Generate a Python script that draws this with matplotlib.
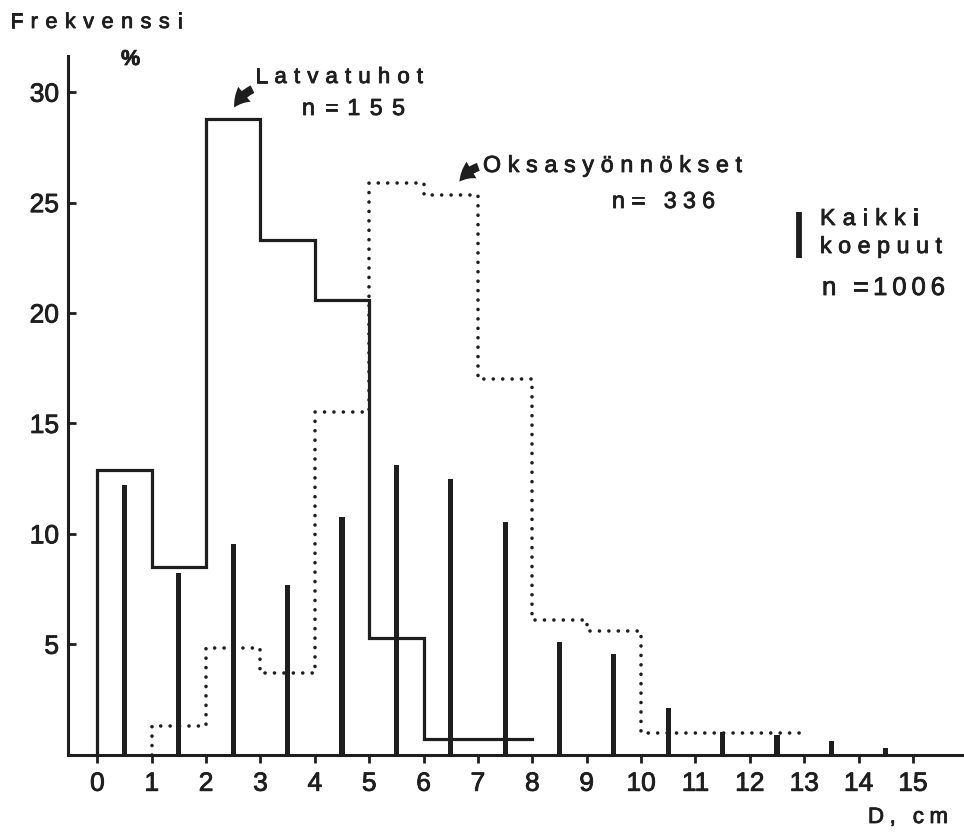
import numpy as np
import matplotlib
matplotlib.use("Agg")
import matplotlib.pyplot as plt
import matplotlib.patheffects as pe
from matplotlib import font_manager, ft2font
from matplotlib.patches import FancyArrowPatch

# Diameter class edges (cm) and frequencies (%)
# Latvatuhot, n = 155
top_edges = [0, 1, 2, 3, 4, 5, 6, 8]
top_pct = [12.9, 8.5, 28.8, 23.3, 20.6, 5.3, 0.7]

# Oksasyönnökset, n = 336
branch_edges = [1, 2, 3, 4, 5, 6, 7, 8, 9, 10, 13]
branch_pct = [1.3, 4.85, 3.7, 15.5, 25.9, 25.35, 17.0, 6.1, 5.6, 1.0]

# Kaikki koepuut, n = 1006 (class midpoints)
all_mid = [0.5, 1.5, 2.5, 3.5, 4.5, 5.5, 6.5, 7.5, 8.5, 9.5, 10.5, 11.5, 12.5, 13.5, 14.5]
all_pct = [12.2, 8.25, 9.55, 7.7, 10.75, 13.1, 12.5, 10.55, 5.1, 4.55, 2.1, 1.05, 0.9, 0.6, 0.3]

x_ticks = list(range(0, 16))
y_ticks = [5, 10, 15, 20, 25, 30]

INK = "#1e1e1e"
FONT = "Liberation Sans"
W, H = 964, 834
THICK = [pe.withStroke(linewidth=0.6, foreground=INK)]

fig = plt.figure(figsize=(W / 100, H / 100), dpi=100)
fig.patch.set_facecolor("white")
ax = fig.add_axes([68 / W, 1 - 754.7 / H, 1 - 68 / W, (754.7 - 56) / H])


def step_xy(edges, values):
    xs = [edges[0]]
    ys = [0.0]
    for i, v in enumerate(values):
        xs += [edges[i], edges[i + 1]]
        ys += [v, v]
    return xs, ys


xs, ys = step_xy(top_edges, top_pct)
ax.plot(xs, ys, color=INK, lw=2.3, solid_joinstyle="miter", zorder=3)

xs, ys = step_xy(branch_edges, branch_pct)
ax.plot(xs, ys, color=INK, lw=2.6, linestyle=(0, (0.01, 2.6)),
        dash_capstyle="round", zorder=3)

ax.bar(all_mid, all_pct, width=0.095, color=INK, zorder=2)

ax.set_xlim(-0.54, 15.94)
ax.set_ylim(0, 31.64)
for s in ("top", "right"):
    ax.spines[s].set_visible(False)
for s in ("left", "bottom"):
    ax.spines[s].set_linewidth(2.2)
    ax.spines[s].set_color(INK)

ax.set_xticks(x_ticks)
ax.set_xticklabels([str(v) for v in x_ticks])
ax.set_yticks(y_ticks)
ax.set_yticklabels([str(v) for v in y_ticks])
ax.tick_params(axis="x", direction="out", length=5.8, width=2.0, pad=6.5,
               labelsize=19, colors=INK)
ax.tick_params(axis="y", direction="in", length=5.8, width=2.0, pad=6.5,
               labelsize=19, colors=INK)
for lab in ax.get_xticklabels() + ax.get_yticklabels():
    lab.set_fontfamily(FONT)
    lab.set_path_effects(THICK)


def _font(weight):
    path = font_manager.findfont(font_manager.FontProperties(family=FONT, weight=weight))
    return ft2font.FT2Font(path)


_fonts = {"normal": _font("normal"), "bold": _font("bold")}


def tracked(s, left, base, width, size, weight="normal"):
    """Letter-spaced text: left edge / baseline / total width in pixels."""
    ft = _fonts[weight]
    ft.set_size(size, fig.dpi)
    advs = []
    for ch in s:
        g = ft.load_char(ord(ch))
        advs.append(g.linearHoriAdvance / 65536.0)
    n = len(s)
    track = (width - sum(advs)) / (n - 1) if n > 1 else 0
    x = left
    for ch, a in zip(s, advs):
        if ch != " ":
            fig.text((x + a / 2) / W, 1 - base / H, ch, ha="center", va="baseline",
                     fontsize=size, fontfamily=FONT, fontweight=weight, color=INK,
                     path_effects=THICK)
        x += a + track


tracked("Frekvenssi", 10, 28, 172, 15.5)
tracked("%", 121, 65, 20, 15.5, "bold")
tracked("Latvatuhot", 255, 83, 168, 16.0)
tracked("n=155", 302, 115, 103, 16.7)
tracked("Oksasyönnökset", 483, 172, 259, 16.7)
tracked("n= 336", 612, 208, 103, 16.7)
tracked("Kaikki", 820, 225, 98, 16.7)
tracked("koepuut", 820, 253, 122, 16.7)
tracked("n =1006", 822, 295, 123, 18.5)
tracked("D, cm", 868, 823, 80, 16.0)

# Legend mark for all sample trees
fig.add_artist(plt.Line2D([799 / W, 799 / W], [1 - 212 / H, 1 - 258 / H],
                          color=INK, lw=4.2, solid_capstyle="butt"))


def pointer(tail, tip, rad):
    arr = FancyArrowPatch((tail[0] / W, 1 - tail[1] / H), (tip[0] / W, 1 - tip[1] / H),
                          transform=fig.transFigure,
                          arrowstyle="simple,head_length=0.6,head_width=0.7,tail_width=0.3",
                          connectionstyle=f"arc3,rad={rad}", mutation_scale=20,
                          color=INK, lw=0)
    fig.add_artist(arr)


pointer((255, 88), (233, 110), 0.2)
pointer((481, 166), (458, 184), 0.2)

fig.savefig("out.png", dpi=100, facecolor="white")
